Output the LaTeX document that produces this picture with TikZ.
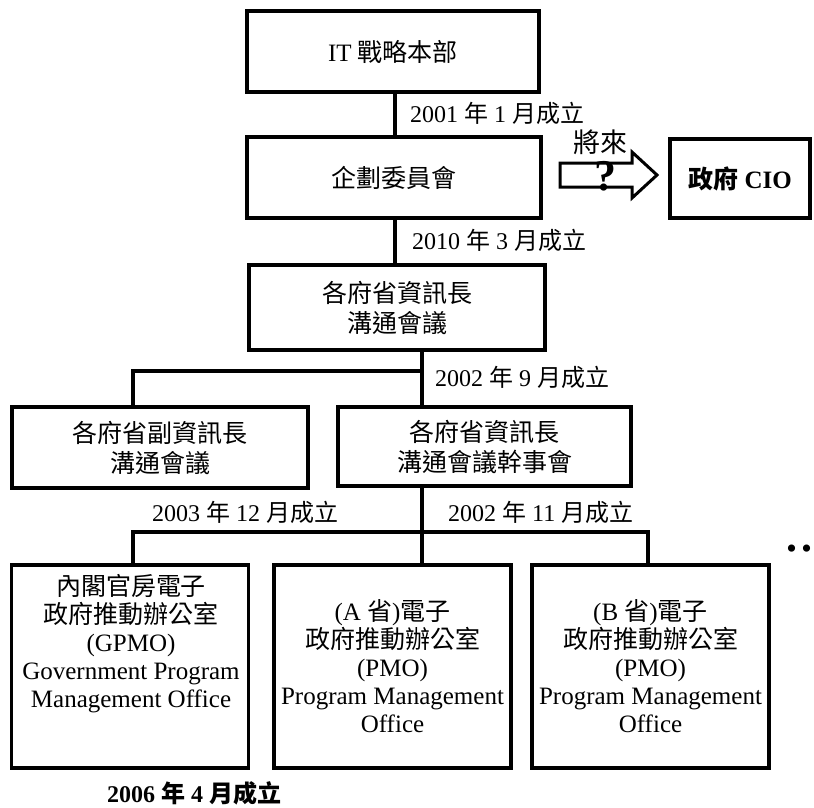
\documentclass[tikz,border=0pt]{standalone}
\usepackage{fontspec}
\setmainfont{Liberation Serif}
\newfontfamily\cjk{Noto Sans CJK TC}
\newcommand\zh[1]{{\cjk #1}}
\begin{document}
\begin{tikzpicture}[x=1pt,y=-1pt,
  box/.style={draw, line width=3.6pt, align=center, inner sep=0pt, font=\fontsize{25}{30}\selectfont},
  lowbox/.style={box, minimum width=237pt, minimum height=203pt, font=\fontsize{25}{28}\selectfont},
  txt/.style={align=center, inner sep=0pt, font=\fontsize{25}{28}\selectfont},
  lbl/.style={anchor=west, inner sep=0pt, font=\fontsize{24}{28}\selectfont},
  conn/.style={line width=3.6pt}]
\useasboundingbox (0,0) rectangle (814,807);

% boxes
\node[box, minimum width=292pt, minimum height=81pt] (it) at (393,51.5) {IT \zh{戰略本部}};
\node[box, minimum width=294pt, minimum height=81pt] (plan) at (394,177.5) {\zh{企劃委員會}};
\node[box, minimum width=140pt, minimum height=79pt] (cio) at (740,178.5) {\bfseries\zh{政府} CIO};
\node[box, minimum width=296pt, minimum height=85pt] (cioc) at (397,307.5) {\zh{各府省資訊長}\\\zh{溝通會議}};
\node[box, minimum width=296pt, minimum height=81pt] (dep) at (160,447.5) {\zh{各府省副資訊長}\\\zh{溝通會議}};
\node[box, minimum width=293pt, minimum height=79pt] (sec) at (484.5,446.5) {\zh{各府省資訊長}\\\zh{溝通會議幹事會}};
\node[lowbox] (g1) at (130,666.5) {};
\node[txt] (g1t) at (131,644) {\zh{內閣官房電子}\\\zh{政府推動辦公室}\\(GPMO)\\Government Program\\Management Office};
\node[lowbox] (g2) at (392.5,666.5) {(A \zh{省})\zh{電子}\\\zh{政府推動辦公室}\\(PMO)\\Program Management\\Office};
\node[lowbox] (g3) at (650.5,666.5) {(B \zh{省})\zh{電子}\\\zh{政府推動辦公室}\\(PMO)\\Program Management\\Office};

% connector junctions
\coordinate (x1) at (395,0);
\coordinate (x2) at (422,0);
\coordinate (b1) at (422,371);
\coordinate (b1l) at (133,371);
\coordinate (h1) at (133,532);
\coordinate (h2) at (648,532);

\draw[conn] (it.south -| x1) -- (plan.north -| x1);
\draw[conn] (plan.south -| x1) -- (cioc.north -| x1);
\draw[conn] (cioc.south -| x2) -- (sec.north -| x2);
\draw[conn] (b1) -- (b1l) -- (dep.north -| b1l);
\draw[conn] (sec.south -| x2) -- (g2.north -| x2);
\draw[conn] (g1.north -| h1) -- (h1) -- (h2) -- (g3.north -| h2);

% block arrow to CIO
\draw[line width=3pt, fill=white, line join=miter]
  (560,163) -- (632,163) -- (632,152) -- (657,175) -- (632,198) -- (632,187) -- (560,187) -- cycle;
\node[inner sep=0pt, font=\fontsize{27}{28}\selectfont] (fut) at (600,142) {\zh{將來}};
\node[inner sep=0pt, font=\fontsize{44}{44}\selectfont\bfseries] (q) at (605,176) {?};

% date labels
\node[lbl] (l1) at (410,113) {2001 \zh{年} 1 \zh{月成立}};
\node[lbl] (l2) at (412,240) {2010 \zh{年} 3 \zh{月成立}};
\node[lbl] (l3) at (435,377) {2002 \zh{年} 9 \zh{月成立}};
\node[lbl] (l4) at (152,512) {2003 \zh{年} 12 \zh{月成立}};
\node[lbl] (l5) at (448,512) {2002 \zh{年} 11 \zh{月成立}};
\node[lbl, font=\fontsize{24}{28}\selectfont\bfseries] (l6) at (107,793) {2006 \zh{年} 4 \zh{月成立}};

% continuation dots
\node[inner sep=0pt, font=\fontsize{30}{30}\selectfont] (more) at (799,552) {•\hspace{4.5pt}•};
\end{tikzpicture}
\end{document}
